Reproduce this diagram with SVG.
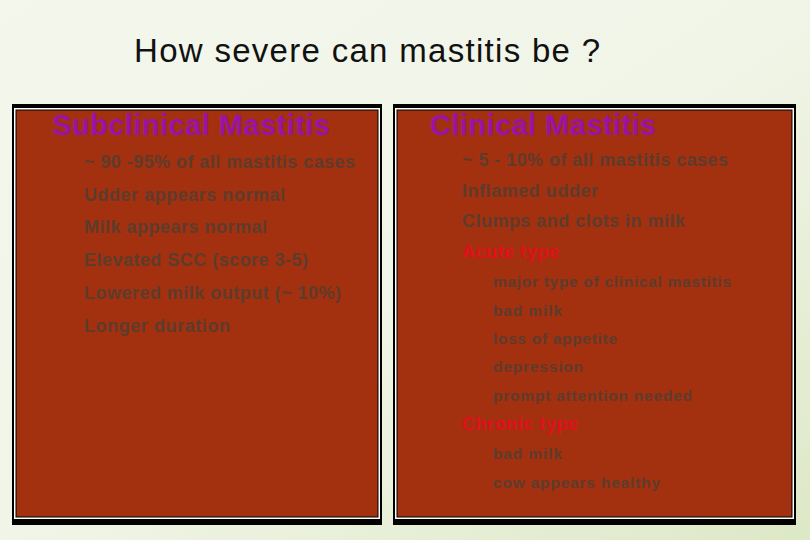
<svg xmlns="http://www.w3.org/2000/svg" width="810" height="540" viewBox="0 0 810 540">
<defs>
<linearGradient id="bg" x1="0" y1="0" x2="1" y2="1"><stop offset="0" stop-color="#f3f7ec"/><stop offset="0.5" stop-color="#f1f5e8"/><stop offset="1" stop-color="#dde8c6"/></linearGradient>
</defs>
<style>
.t{font-family:"Liberation Sans",Arial,sans-serif;font-weight:bold;fill:#5e3c2c;font-size:18px}
.s{font-family:"Liberation Sans",Arial,sans-serif;font-weight:bold;fill:#5e3c2c;font-size:15.5px}
.h{font-family:"Liberation Sans",Arial,sans-serif;font-weight:bold;fill:#9a12a8;font-size:29px}
.r{font-family:"Liberation Sans",Arial,sans-serif;font-weight:bold;fill:#e0101a;font-size:18px}
.box{fill:#a3300f;stroke:#000;stroke-width:1}
</style>
<rect width="810" height="540" fill="url(#bg)"/>
<text x="134" y="62" textLength="466" font-family="Liberation Sans,Arial,sans-serif" font-size="33" fill="#111">How severe can mastitis be ?</text>
<g id="left">
<rect x="12" y="104" width="370" height="421" fill="#000"/>
<rect x="14" y="108" width="366" height="411" fill="#fff"/>
<rect x="16" y="110" width="362" height="407" class="box"/>
<text class="h" x="52" y="135" textLength="278">Subclinical Mastitis</text>
<text class="t" x="84" y="168" textLength="271">~ 90 -95% of all mastitis cases</text>
<text class="t" x="84" y="201" textLength="201">Udder appears normal</text>
<text class="t" x="84" y="233" textLength="183">Milk appears normal</text>
<text class="t" x="84" y="266" textLength="224">Elevated SCC (score 3-5)</text>
<text class="t" x="84" y="299" textLength="257">Lowered milk output (~ 10%)</text>
<text class="t" x="84" y="332" textLength="146">Longer duration</text>
</g>
<g id="right">
<rect x="393" y="104" width="403" height="421" fill="#000"/>
<rect x="395" y="108" width="399" height="411" fill="#fff"/>
<rect x="397" y="110" width="395" height="407" class="box"/>
<text class="h" x="430" y="135" textLength="226">Clinical Mastitis</text>
<text class="t" x="462" y="166" textLength="266">~ 5 - 10% of all mastitis cases</text>
<text class="t" x="462" y="197" textLength="136">Inflamed udder</text>
<text class="t" x="462" y="227" textLength="223">Clumps and clots in milk</text>
<text class="r" x="462" y="258" textLength="97">Acute type</text>
<text class="s" x="493" y="287" textLength="238">major type of clinical mastitis</text>
<text class="s" x="493" y="316" textLength="69">bad milk</text>
<text class="s" x="493" y="344" textLength="124">loss of appetite</text>
<text class="s" x="493" y="372" textLength="90">depression</text>
<text class="s" x="493" y="401" textLength="199">prompt attention needed</text>
<text class="r" x="462" y="430" textLength="116">Chronic type</text>
<text class="s" x="493" y="459" textLength="69">bad milk</text>
<text class="s" x="493" y="488" textLength="167">cow appears healthy</text>
</g>
</svg>
